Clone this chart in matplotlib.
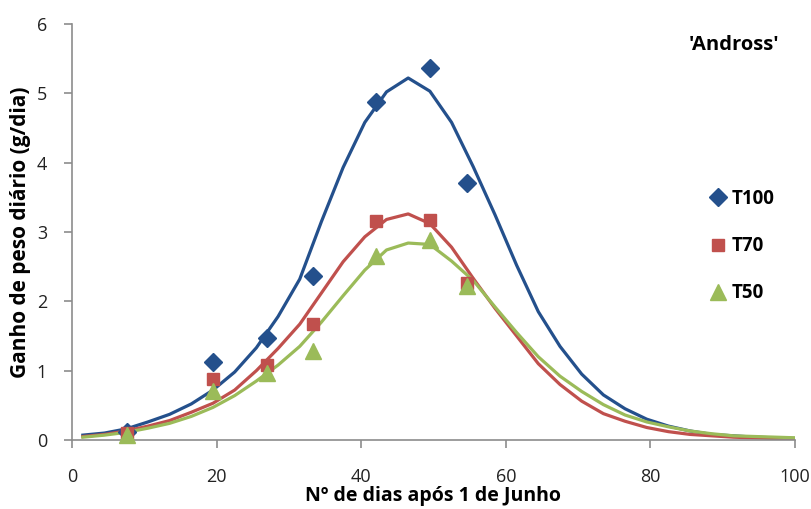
import matplotlib
matplotlib.use("Agg")
import matplotlib.pyplot as plt

# Observed data points (day, daily weight gain)
obs_x = [7.6, 19.5, 27.0, 33.4, 42.0, 49.5, 54.6]
t100_obs = [0.12, 1.13, 1.47, 2.37, 4.88, 5.36, 3.71]
t70_obs = [0.10, 0.88, 1.08, 1.67, 3.16, 3.17, 2.27]
t50_obs = [0.07, 0.70, 0.96, 1.28, 2.66, 2.89, 2.22]

# Fitted curves
curve_x = [1.5, 4.5, 7.5, 10.5, 13.5, 16.5, 19.5, 22.5, 25.5, 28.5, 31.5, 34.5,
           37.5, 40.5, 43.5, 46.5, 49.5, 52.5, 55.5, 58.5, 61.5, 64.5, 67.5,
           70.5, 73.5, 76.5, 79.5, 82.5, 85.5, 88.5, 91.5, 94.5, 97.5, 100.5]
t100_fit = [0.07, 0.10, 0.16, 0.26, 0.37, 0.52, 0.72, 0.98, 1.33, 1.78, 2.32, 3.15,
            3.93, 4.58, 5.02, 5.22, 5.03, 4.58, 3.94, 3.25, 2.52, 1.85, 1.35,
            0.95, 0.65, 0.45, 0.30, 0.20, 0.13, 0.08, 0.06, 0.04, 0.03, 0.02]
t70_fit = [0.05, 0.08, 0.13, 0.20, 0.28, 0.40, 0.53, 0.72, 1.00, 1.32, 1.67, 2.12,
           2.57, 2.93, 3.18, 3.26, 3.12, 2.78, 2.33, 1.90, 1.50, 1.10, 0.80,
           0.56, 0.38, 0.27, 0.18, 0.12, 0.08, 0.06, 0.04, 0.03, 0.02, 0.02]
t50_fit = [0.04, 0.07, 0.11, 0.17, 0.24, 0.34, 0.47, 0.64, 0.85, 1.08, 1.35, 1.70,
           2.08, 2.45, 2.74, 2.84, 2.82, 2.58, 2.30, 1.92, 1.55, 1.20, 0.92,
           0.70, 0.51, 0.36, 0.26, 0.19, 0.13, 0.09, 0.06, 0.05, 0.04, 0.03]

x_ticks = [0, 20, 40, 60, 80, 100]
y_ticks = [0, 1, 2, 3, 4, 5, 6]
series_names = ["T100", "T70", "T50"]
title_text = "'Andross'"

blue = "#24508C"
red = "#C0504D"
green = "#9BBB59"

plt.rcParams['font.family'] = ['Open Sans', 'DejaVu Sans']

fig = plt.figure(figsize=(8.12, 5.09), dpi=100)
ax = fig.add_axes([0.0887, 0.1356, 0.8903, 0.8174])

ax.plot(curve_x, t100_fit, color=blue, lw=2.3, zorder=2)
ax.plot(curve_x, t70_fit, color=red, lw=2.3, zorder=2)
ax.plot(curve_x, t50_fit, color=green, lw=2.3, zorder=2)

ax.plot(obs_x, t100_obs, ls='none', marker='D', ms=9, color=blue, label=series_names[0], zorder=3, clip_on=False)
ax.plot(obs_x, t70_obs, ls='none', marker='s', ms=9, color=red, label=series_names[1], zorder=3, clip_on=False)
ax.plot(obs_x, t50_obs, ls='none', marker='^', ms=11, color=green, label=series_names[2], zorder=3, clip_on=False)

ax.set_xlim(0, 100)
ax.set_ylim(0, 6)
ax.set_xticks(x_ticks)
ax.set_yticks(y_ticks)
for s in ['top', 'right']:
    ax.spines[s].set_visible(False)
for s in ['left', 'bottom']:
    ax.spines[s].set_color('#8c8c8c')
    ax.spines[s].set_linewidth(1.2)
ax.tick_params(axis='both', direction='out', length=6, color='#8c8c8c', width=1.2,
               labelsize=13, labelcolor='#222222')
ax.tick_params(axis='x', pad=14)
ax.tick_params(axis='y', pad=12)

ax.set_xlabel("Nº de dias após 1 de Junho", fontsize=14, fontweight='bold', va='center')
ax.xaxis.set_label_coords(0.5, -0.135)
ax.set_ylabel("Ganho de peso diário (g/dia)", fontsize=15, fontweight='bold', labelpad=4)

ax.text(0.979, 0.95, title_text, transform=ax.transAxes, ha='right', va='center',
        fontsize=14.5, fontweight='bold')

leg = ax.legend(loc='center left', bbox_to_anchor=(0.86, 0.466), frameon=False,
                handlelength=0.8, handletextpad=0.3, labelspacing=1.45,
                prop={'weight': 'bold', 'size': 13.5})

fig.savefig("out.png", dpi=100)
